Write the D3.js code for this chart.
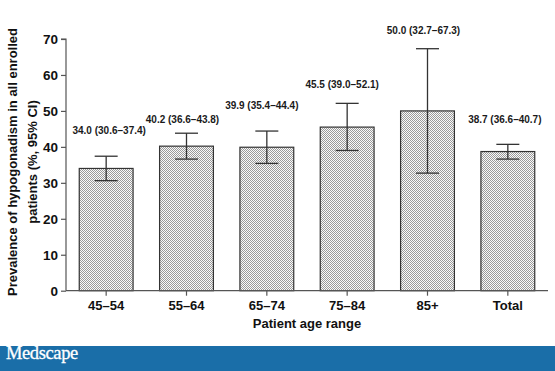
<!DOCTYPE html>
<html>
<head>
<meta charset="utf-8">
<script src="https://cdn.jsdelivr.net/npm/d3@7"></script>
<style>
  html, body { margin: 0; padding: 0; background: #fff; }
  svg { display: block; }
</style>
</head>
<body>
<script>
// ---- Data ----
const categories = ["45–54", "55–64", "65–74", "75–84", "85+", "Total"];
const values = [34.0, 40.2, 39.9, 45.5, 50.0, 38.7];
const lower = [30.6, 36.6, 35.4, 39.0, 32.7, 36.6];
const upper = [37.4, 43.8, 44.4, 52.1, 67.3, 40.7];
// level (in axis units) at which each value label sits, as in the original
const labelLevel = [43.6, 46.6, 50.4, 56.5, 71.4, 46.6];
const yTicks = [0, 10, 20, 30, 40, 50, 60, 70];
const yTitle = ["Prevalence of hypogonadism in all enrolled", "patients (%, 95% CI)"];
const xTitle = "Patient age range";
const footerText = "Medscape";

// ---- Layout ----
const W = 555, H = 371;
const labelNudge = [3, -4, -5, -5, -4, -3];
const FONT = "'Liberation Sans', Arial, Helvetica, sans-serif";

const svg = d3.select("body").append("svg").attr("width", W).attr("height", H);

const defs = svg.append("defs");
const pat = defs.append("pattern")
  .attr("id", "stipple").attr("patternUnits", "userSpaceOnUse")
  .attr("width", 2).attr("height", 2);
pat.append("rect").attr("width", 2).attr("height", 2).attr("fill", "#fafafa");
pat.append("rect").attr("x", 0).attr("y", 0).attr("width", 1).attr("height", 1).attr("fill", "#9a9a9a");
pat.append("rect").attr("x", 1).attr("y", 1).attr("width", 1).attr("height", 1).attr("fill", "#9a9a9a");

const x = d3.scaleBand().domain(categories).range([66, 548])
  .paddingInner(0.33).paddingOuter(0.165);
const y = d3.scaleLinear().domain([0, 70]).range([290.7, 39]);

const data = categories.map((c, i) => ({
  c, v: values[i], lo: lower[i], hi: upper[i], lab: labelLevel[i], dx: labelNudge[i]
}));

// Bars
svg.append("g").selectAll("rect").data(data).join("rect")
  .attr("x", d => x(d.c))
  .attr("y", d => y(d.v))
  .attr("width", x.bandwidth())
  .attr("height", d => y(0) - y(d.v))
  .attr("fill", "url(#stipple)")
  .attr("stroke", "#333")
  .attr("stroke-width", 1.2);

// Error bars
const eb = svg.append("g").attr("stroke", "#333").attr("stroke-width", 1.3);
const cx = d => x(d.c) + x.bandwidth() / 2;
eb.selectAll("line.v").data(data).join("line").attr("class", "v")
  .attr("x1", cx).attr("x2", cx)
  .attr("y1", d => y(d.lo)).attr("y2", d => y(d.hi));
eb.selectAll("line.t").data(data).join("line").attr("class", "t")
  .attr("x1", d => cx(d) - 11.5).attr("x2", d => cx(d) + 11.5)
  .attr("y1", d => y(d.hi)).attr("y2", d => y(d.hi));
eb.selectAll("line.b").data(data).join("line").attr("class", "b")
  .attr("x1", d => cx(d) - 11.5).attr("x2", d => cx(d) + 11.5)
  .attr("y1", d => y(d.lo)).attr("y2", d => y(d.lo));

// Value labels
svg.append("g").selectAll("text").data(data).join("text")
  .attr("x", d => cx(d) + d.dx)
  .attr("y", d => y(d.lab))
  .attr("text-anchor", "middle")
  .attr("font-family", FONT).attr("font-weight", "bold").attr("font-size", 10)
  .attr("fill", "#1a1a1a")
  .text(d => `${d.v.toFixed(1)} (${d.lo.toFixed(1)}–${d.hi.toFixed(1)})`);

// Y axis
const yAxis = svg.append("g").attr("transform", "translate(66,0)")
  .call(d3.axisLeft(y).tickValues(yTicks).tickSize(5).tickPadding(3).tickFormat(d3.format("d")));
yAxis.selectAll("path, line").attr("stroke", "#555").attr("stroke-width", 1.2);
yAxis.select("path").attr("d", `M-5,${y(70)}H0V${y(0)}`);
yAxis.selectAll("text").attr("font-family", FONT).attr("font-weight", "bold")
  .attr("font-size", 13.5).attr("fill", "#111");

// X axis
const xAxis = svg.append("g").attr("transform", `translate(0,${y(0)})`)
  .call(d3.axisBottom(x).tickSize(5).tickPadding(5));
xAxis.selectAll("path, line").attr("stroke", "#555").attr("stroke-width", 1.2);
xAxis.select("path").attr("d", "M66,0H548");
xAxis.selectAll("text").attr("font-family", FONT).attr("font-weight", "bold")
  .attr("font-size", 13).attr("fill", "#111");

// Axis titles
svg.append("text")
  .attr("x", 307).attr("y", 328)
  .attr("text-anchor", "middle")
  .attr("font-family", FONT).attr("font-weight", "bold").attr("font-size", 13)
  .attr("fill", "#111").text(xTitle);

const yt = svg.append("text")
  .attr("transform", "translate(17,162) rotate(-90)")
  .attr("text-anchor", "middle")
  .attr("font-family", FONT).attr("font-weight", "bold").attr("font-size", 13)
  .attr("fill", "#111");
yt.selectAll("tspan").data(yTitle).join("tspan")
  .attr("x", 0).attr("dy", (d, i) => i === 0 ? 0 : 19.5).text(d => d);

// Footer
svg.append("rect").attr("x", 0).attr("y", 346).attr("width", W).attr("height", H - 346)
  .attr("fill", "#1a6ea8");
svg.append("text").attr("x", 6).attr("y", 359)
  .attr("font-family", "'Liberation Serif', 'Times New Roman', serif")
  .attr("font-size", 18.5).attr("fill", "#fff").attr("letter-spacing", -0.4)
  .attr("stroke", "#fff").attr("stroke-width", 0.3)
  .text(footerText);
</script>
</body>
</html>
